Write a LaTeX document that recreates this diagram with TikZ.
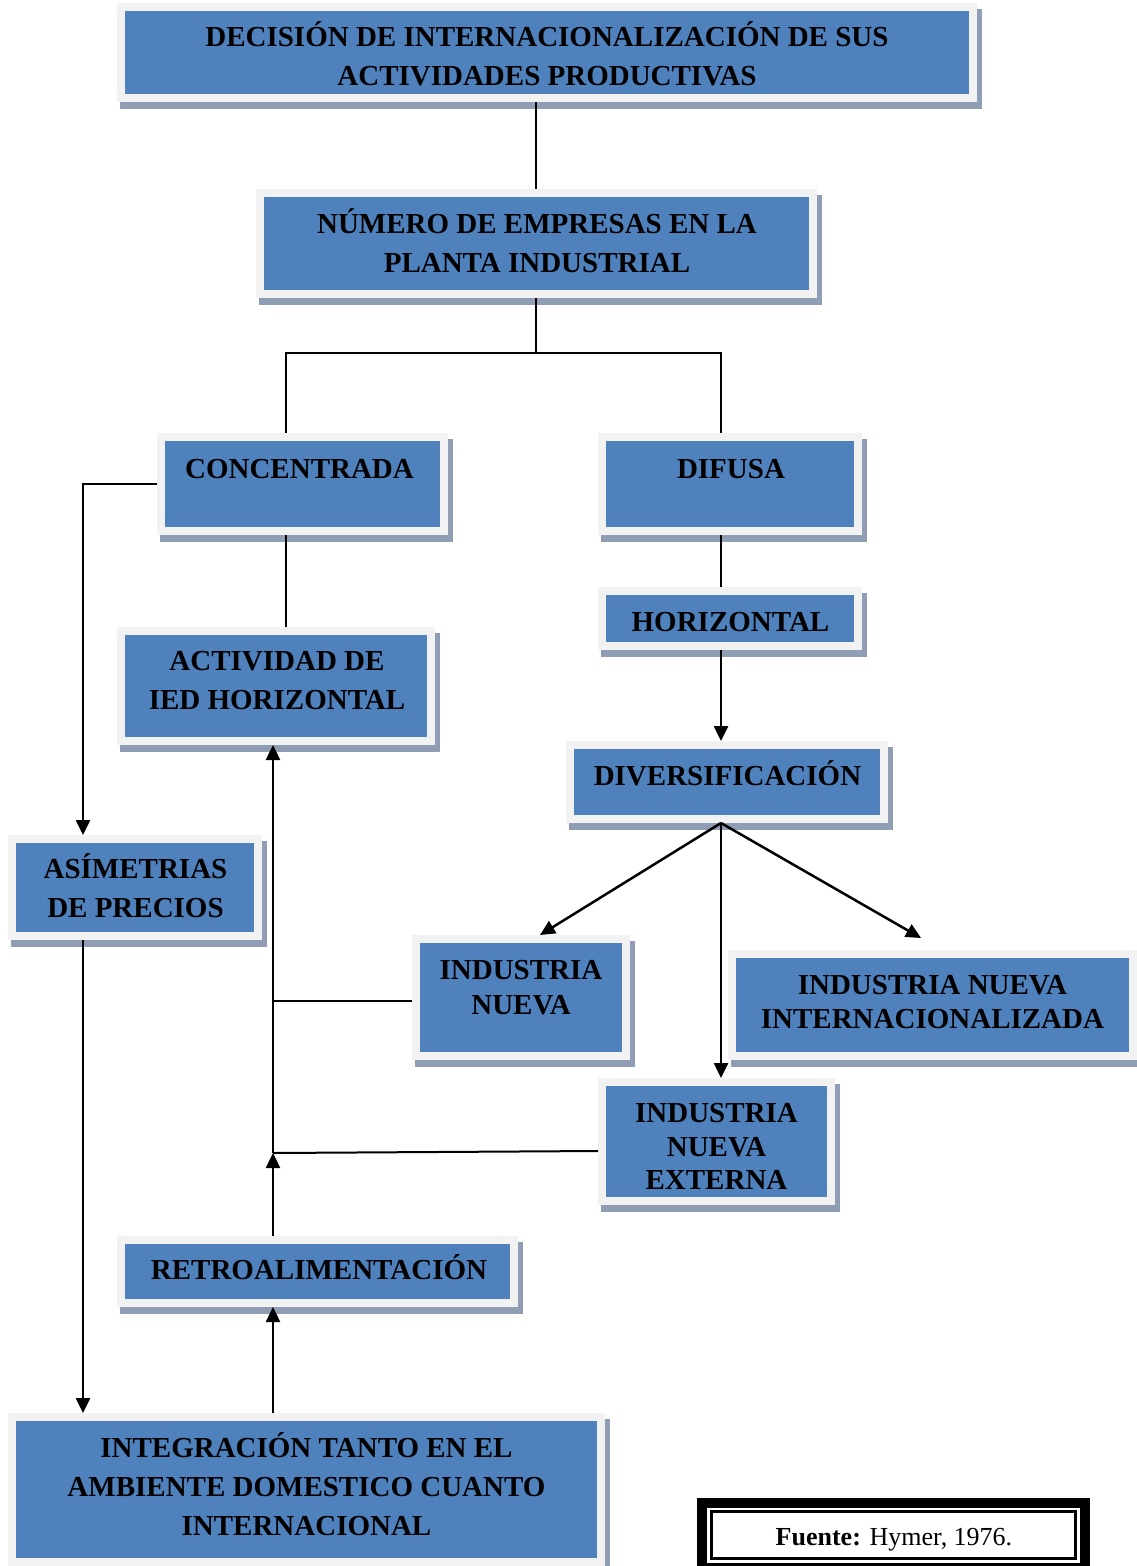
\documentclass[tikz,border=0pt]{standalone}
\usepackage{fontspec}
\setmainfont{Liberation Serif}
\usetikzlibrary{arrows.meta,calc}
\definecolor{boxblue}{HTML}{4F81BD}
\definecolor{frameg}{HTML}{F2F2F2}
\definecolor{shadowc}{RGB}{143,158,180}
\tikzset{
 bbox/.style={fill=boxblue, draw=frameg, line width=8pt, inner sep=0pt, outer sep=4pt},
 lbl/.style={font=\fontsize{29}{39}\selectfont\bfseries, align=center, inner sep=0pt},
 conn/.style={line width=2pt},
 arr/.style={line width=2.5pt, -{Triangle[length=15pt,width=14pt]}},
}
\newcommand{\mkbox}[5]{%
 \fill[shadowc] (#2+3,#3+6) rectangle (#4+5,#5+7);
 \node[bbox, minimum width={#4-#2-8}, minimum height={#5-#3-8}] (#1) at ({(#2+#4)/2},{(#3+#5)/2}) {};
}
\begin{document}
\begin{tikzpicture}[x=1pt,y=-1pt]
\useasboundingbox (0,0) rectangle (1137,1566);
% boxes
\mkbox{dec}{117}{3}{977}{102}
\mkbox{num}{256}{189}{817}{298}
\mkbox{conc}{157}{433}{448}{535}
\mkbox{dif}{598}{433}{862}{535}
\mkbox{hor}{598}{587}{862}{650}
\mkbox{act}{117}{627}{435}{745}
\mkbox{div}{566}{741}{888}{823}
\mkbox{asim}{8}{835}{262}{940}
\mkbox{inu}{412}{935}{630}{1060}
\mkbox{inter}{728}{950}{1137}{1060}
\mkbox{ext}{598}{1078}{835}{1205}
\mkbox{retro}{117}{1236}{518}{1307}
\mkbox{integ}{8}{1413}{605}{1566}
% texts
\node[lbl] (dec-t) at (547,53.5) {DECISIÓN DE INTERNACIONALIZACIÓN DE SUS\\ACTIVIDADES PRODUCTIVAS};
\node[lbl] (num-t) at (537,240.5) {NÚMERO DE EMPRESAS EN LA\\PLANTA INDUSTRIAL};
\node[lbl] (conc-t) at (299.5,469) {CONCENTRADA};
\node[lbl] (dif-t) at (731,469) {DIFUSA};
\node[lbl] (hor-t) at (730.5,622) {HORIZONTAL};
\node[lbl] (act-t) at (277,681) {ACTIVIDAD DE\\IED HORIZONTAL};
\node[lbl] (div-t) at (727.5,773) {DIVERSIFICACIÓN};
\node[lbl] (asim-t) at (135.5,885.5) {ASÍMETRIAS\\DE PRECIOS};
\node[lbl, font=\fontsize{29}{35}\selectfont\bfseries] (inu-t) at (521,987.5) {INDUSTRIA\\NUEVA};
\node[lbl, font=\fontsize{29}{34}\selectfont\bfseries] (inter-t) at (932.5,1002) {INDUSTRIA NUEVA\\INTERNACIONALIZADA};
\node[lbl, font=\fontsize{29}{33.5}\selectfont\bfseries] (ext-t) at (716.5,1146.5) {INDUSTRIA\\NUEVA\\EXTERNA};
\node[lbl] (retro-t) at (319,1267) {RETROALIMENTACIÓN};
\node[lbl] (integ-t) at (306.5,1484.5) {INTEGRACIÓN TANTO EN EL\\AMBIENTE DOMESTICO CUANTO\\INTERNACIONAL};
% connector helpers
\coordinate (split) at (536,353);
\coordinate (vx) at (721,0);
\coordinate (vc) at (286,0);
\coordinate (vl) at (83,0);
\coordinate (j) at (273,1153);
% connectors
\draw[conn] (dec.south -| split) -- (num.north -| split);
\draw[conn] (num.south -| split) -- (split);
\draw[conn] (conc.north -| vc) |- (split) -| (dif.north -| vx);
\draw[conn] (conc.south -| vc) -- (act.north -| vc);
\draw[conn] (dif.south -| vx) -- (hor.north -| vx);
\draw[arr] (hor.south -| vx) -- (div.north -| vx);
\coordinate (dv) at (div.south -| vx);
\draw[arr] (dv) -- ([xshift=19pt]inu.north);
\draw[arr] (dv) -- ([xshift=-11.5pt,yshift=12pt]inter.north);
\draw[arr] (dv) -- (ext.north -| vx);
\draw[arr] (conc.west) -| (asim.north -| vl);
\draw[arr] (asim.south -| vl) -- (integ.north -| vl);
\draw[arr] (integ.north -| j) -- (retro.south -| j);
\draw[arr] (retro.north -| j) -- (j);
\draw[conn] ([yshift=-9.5pt]ext.west) -- (j);
\draw[arr] (j) -- (act.south -| j);
\draw[conn] ([yshift=-3.5pt]inu.west) -- ([yshift=-3.5pt]inu.west -| j);
% source box
\node[draw, line width=10pt, minimum width=383, minimum height=65, inner sep=0pt] (fframe) at (893.5,1535.5) {};
\node[draw, line width=3pt, minimum width=363.5, minimum height=46.5, inner sep=0pt] (fuente) at (893.25,1534.75) {};
\node[inner sep=0pt, font=\fontsize{26}{30}\selectfont] (fuente-t) at (894,1539.5) {\textbf{Fuente:} Hymer, 1976.};
\end{tikzpicture}
\end{document}
